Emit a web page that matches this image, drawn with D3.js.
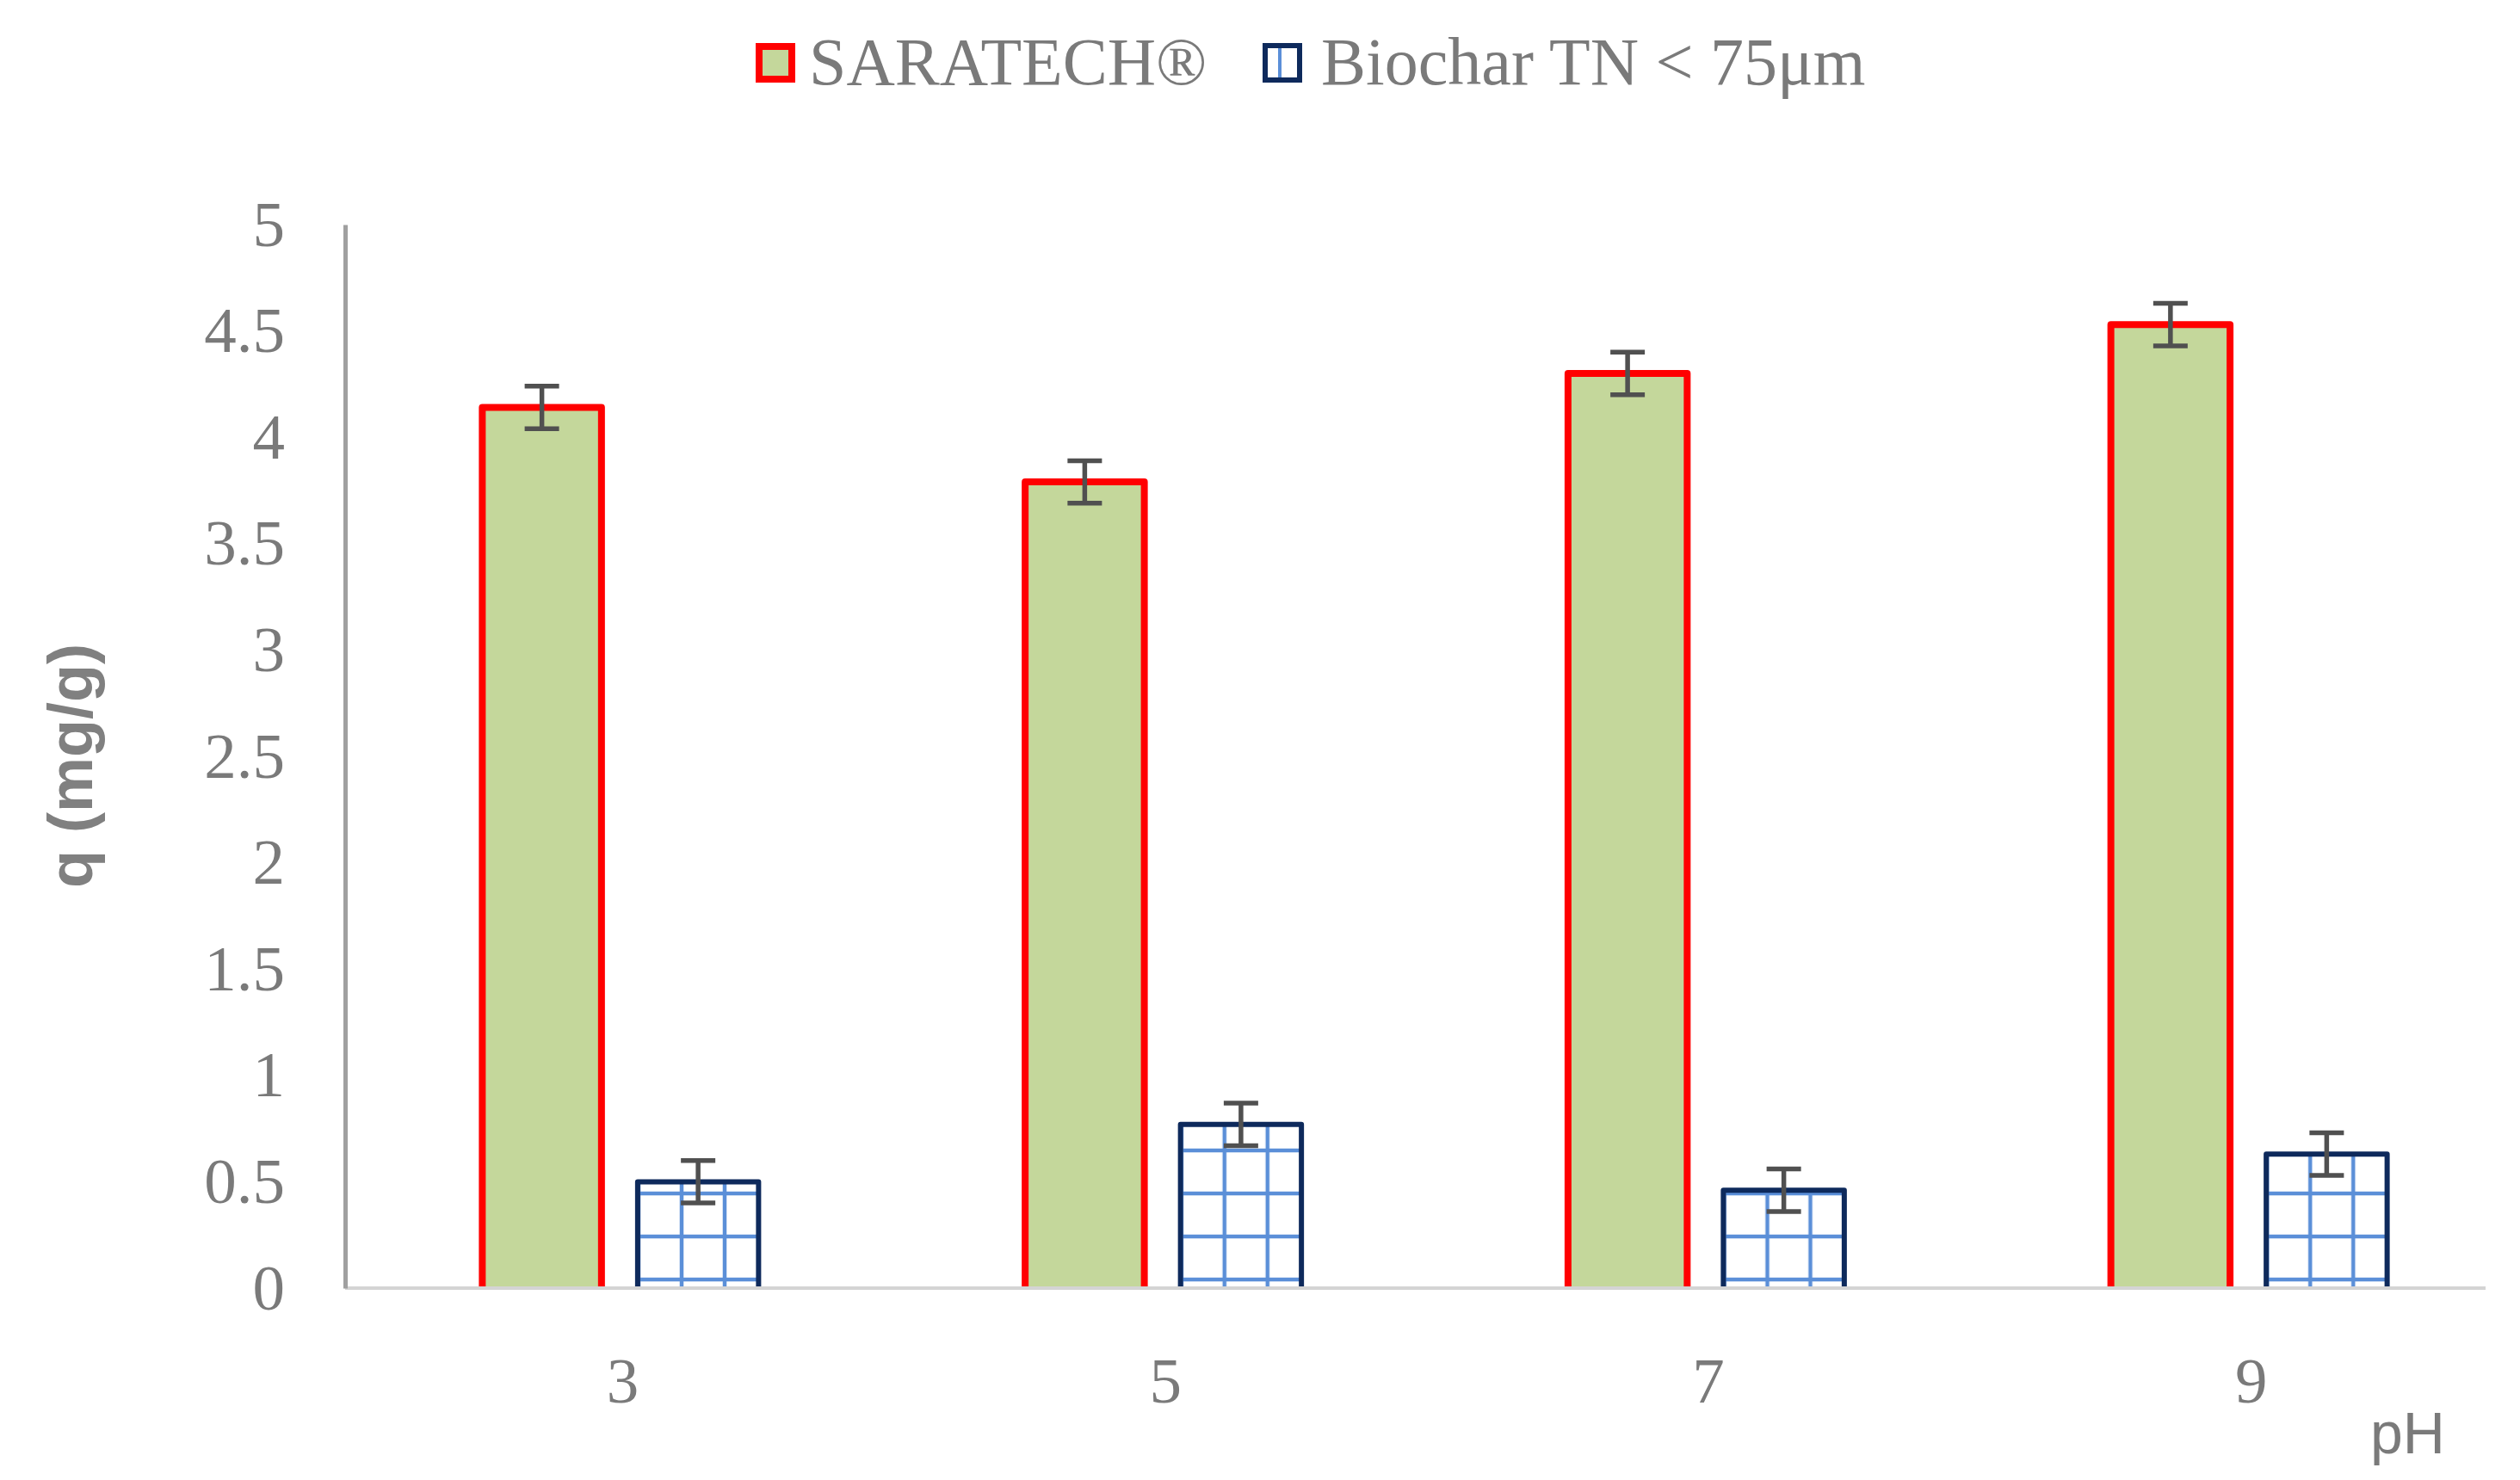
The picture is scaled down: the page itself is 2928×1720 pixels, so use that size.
<!DOCTYPE html>
<html lang="en">
<head>
    <meta charset="UTF-8">
    <title>q vs pH</title>
    <script src="https://d3js.org/d3.v7.min.js" charset="utf-8"></script>
    <style>
        body, html {
            margin: 0;
            padding: 0;
            background: #ffffff;
            overflow: hidden;
        }
    </style>
</head>
<body>
    <svg id="chart"></svg>

    <script>
        // data
        const categories = ['3', '5', '7', '9'];
        const seriesNames = ['SARATECH®', 'Biochar TN < 75μm'];
        const saratech = [4.14, 3.79, 4.30, 4.53];
        const saratechErr = [0.10, 0.10, 0.10, 0.10];
        const biochar = [0.50, 0.77, 0.46, 0.63];
        const biocharErr = [0.10, 0.10, 0.10, 0.10];
        const yTicks = [0, 0.5, 1, 1.5, 2, 2.5, 3, 3.5, 4, 4.5, 5];

        const width = 2928;
        const height = 1720;
        const serif = '"Palatino Linotype", "Book Antiqua", "Liberation Serif", serif';
        const sans = '"Liberation Sans", Arial, sans-serif';
        const textGrey = '#7a7a7a';

        const svg = d3.select('#chart')
            .attr('width', width)
            .attr('height', height);

        // grid pattern for the biochar bars
        const defs = svg.append('defs');
        const pat = defs.append('pattern')
            .attr('id', 'grid')
            .attr('patternUnits', 'userSpaceOnUse')
            .attr('x', 12).attr('y', 12)
            .attr('width', 50).attr('height', 50);
        pat.append('rect').attr('width', 50).attr('height', 50).attr('fill', '#ffffff');
        pat.append('line').attr('x1', 25).attr('x2', 25).attr('y1', 0).attr('y2', 50)
            .attr('stroke', '#5b8fd8').attr('stroke-width', 4.5);
        pat.append('line').attr('x1', 0).attr('x2', 50).attr('y1', 25).attr('y2', 25)
            .attr('stroke', '#5b8fd8').attr('stroke-width', 4.5);

        // scales
        const axisX = 401;
        const x0 = d3.scaleBand()
            .domain(categories)
            .range([405, 2928]);

        const x1 = d3.scaleBand()
            .domain(seriesNames)
            .range([x0.bandwidth() / 2 - 164, x0.bandwidth() / 2 + 164])
            .paddingInner(0.193);

        const y = d3.scaleLinear()
            .domain([0, 5])
            .range([1497, 261]);

        const styles = [
            { fill: '#c4d79b', stroke: '#ff0000', sw: 8 },
            { fill: 'url(#grid)', stroke: '#0e2a5c', sw: 6 }
        ];

        const rows = categories.map((c, i) => ({
            cat: c,
            vals: [
                { key: seriesNames[0], s: 0, v: saratech[i], e: saratechErr[i] },
                { key: seriesNames[1], s: 1, v: biochar[i], e: biocharErr[i] }
            ]
        }));

        const groups = svg.append('g')
            .selectAll('g')
            .data(rows)
            .join('g')
            .attr('transform', d => `translate(${x0(d.cat)},0)`);

        const bars = groups.selectAll('g.bar')
            .data(d => d.vals)
            .join('g')
            .attr('class', 'bar');

        // fill
        bars.append('rect')
            .attr('x', d => x1(d.key) + styles[d.s].sw / 2)
            .attr('width', d => x1.bandwidth() - styles[d.s].sw)
            .attr('y', d => y(d.v))
            .attr('height', d => y(0) - y(d.v))
            .attr('fill', d => styles[d.s].fill);

        // border without bottom edge
        bars.append('path')
            .attr('d', d => {
                const h = styles[d.s].sw / 2;
                const l = x1(d.key) + h;
                const r = x1(d.key) + x1.bandwidth() - h;
                return `M${l},${y(0)}V${y(d.v)}H${r}V${y(0)}`;
            })
            .attr('fill', 'none')
            .attr('stroke', d => styles[d.s].stroke)
            .attr('stroke-width', d => styles[d.s].sw)
            .attr('stroke-linejoin', 'round');

        // x axis
        const xAxis = d3.axisBottom(x0).tickSize(0).tickPadding(80);
        const xAxisG = svg.append('g')
            .attr('transform', `translate(0,${y(0)})`)
            .call(xAxis);
        xAxisG.select('.domain').remove();
        xAxisG.append('line')
            .attr('x1', axisX).attr('x2', 2888)
            .attr('stroke', '#d4d4d4')
            .attr('stroke-width', 4);
        xAxisG.selectAll('.tick text')
            .attr('font-family', serif)
            .attr('font-size', 75)
            .attr('fill', textGrey)
            .attr('dx', 3);

        // error bars
        const cap = 20;
        const err = bars.append('g')
            .attr('stroke', '#505050')
            .attr('stroke-width', 5.5);
        err.append('line')
            .attr('x1', d => x1(d.key) + x1.bandwidth() / 2)
            .attr('x2', d => x1(d.key) + x1.bandwidth() / 2)
            .attr('y1', d => y(d.v + d.e))
            .attr('y2', d => y(d.v - d.e));
        err.append('line')
            .attr('x1', d => x1(d.key) + x1.bandwidth() / 2 - cap)
            .attr('x2', d => x1(d.key) + x1.bandwidth() / 2 + cap)
            .attr('y1', d => y(d.v + d.e))
            .attr('y2', d => y(d.v + d.e));
        err.append('line')
            .attr('x1', d => x1(d.key) + x1.bandwidth() / 2 - cap)
            .attr('x2', d => x1(d.key) + x1.bandwidth() / 2 + cap)
            .attr('y1', d => y(d.v - d.e))
            .attr('y2', d => y(d.v - d.e));

        // y axis
        const yAxis = d3.axisLeft(y)
            .tickValues(yTicks)
            .tickFormat(d => String(d))
            .tickSize(0)
            .tickSizeOuter(0)
            .tickPadding(70);
        const yAxisG = svg.append('g')
            .attr('transform', `translate(${axisX},0)`)
            .call(yAxis);
        yAxisG.select('.domain')
            .attr('stroke', '#a0a0a0')
            .attr('stroke-width', 5);
        yAxisG.selectAll('.tick text')
            .attr('font-family', serif)
            .attr('font-size', 75)
            .attr('fill', textGrey);

        // axis titles
        svg.append('text')
            .attr('transform', `translate(107,890) rotate(-90)`)
            .attr('text-anchor', 'middle')
            .attr('font-family', sans)
            .attr('font-size', 72)
            .attr('font-weight', 'bold')
            .attr('fill', '#808080')
            .text('q (mg/g)');

        svg.append('text')
            .attr('x', 2754)
            .attr('y', 1689)
            .attr('font-family', sans)
            .attr('font-size', 68)
            .attr('fill', textGrey)
            .text('pH');

        // legend
        const legendX = [878, 1467];
        const legend = svg.append('g')
            .selectAll('g')
            .data(seriesNames)
            .join('g')
            .attr('transform', (d, i) => `translate(${legendX[i]},50)`);

        legend.append('rect')
            .attr('x', (d, i) => styles[i].sw / 2)
            .attr('y', (d, i) => styles[i].sw / 2)
            .attr('width', (d, i) => 46 - styles[i].sw)
            .attr('height', (d, i) => 46 - styles[i].sw)
            .attr('fill', (d, i) => i === 0 ? styles[0].fill : '#ffffff')
            .attr('stroke', (d, i) => styles[i].stroke)
            .attr('stroke-width', (d, i) => styles[i].sw);

        legend.filter((d, i) => i === 1)
            .append('line')
            .attr('x1', 20).attr('x2', 20)
            .attr('y1', 6).attr('y2', 40)
            .attr('stroke', '#5b8fd8')
            .attr('stroke-width', 4);

        legend.append('text')
            .attr('x', (d, i) => i === 0 ? 62 : 68)
            .attr('y', 48)
            .attr('font-family', serif)
            .attr('font-size', 78)
            .attr('fill', textGrey)
            .text(d => d);
    </script>
</body>
</html>
